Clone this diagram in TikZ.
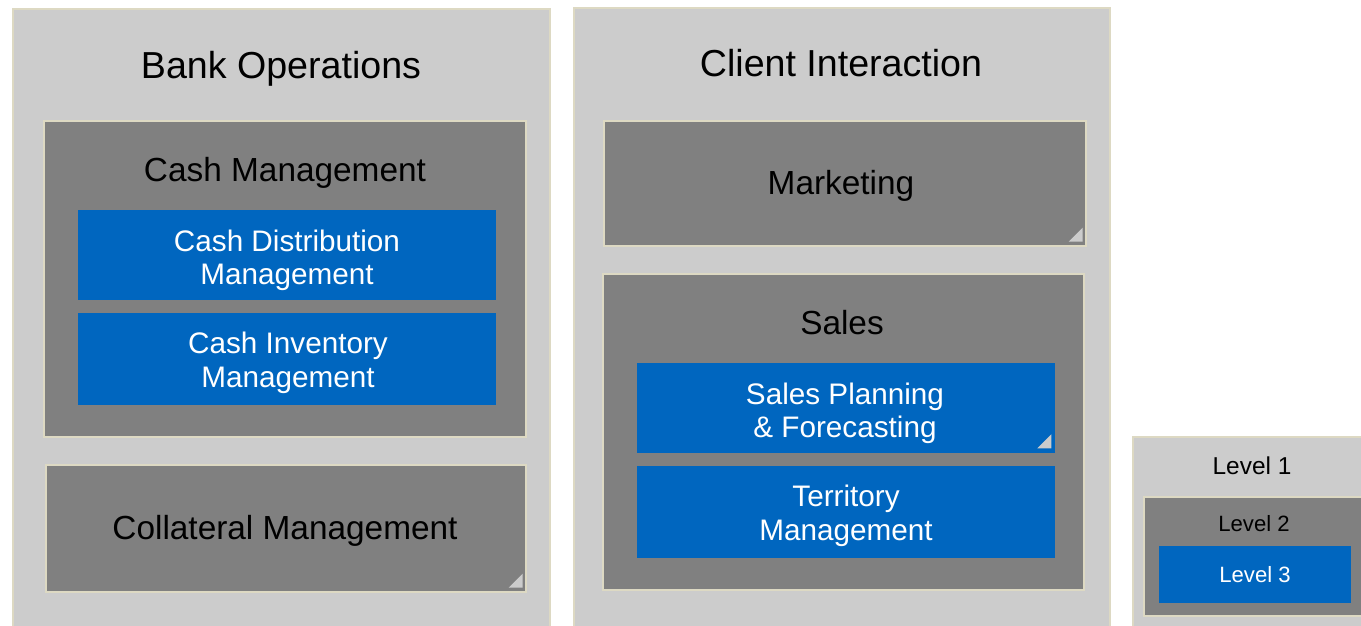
\documentclass[tikz,border=0pt]{standalone}
\usepackage{fontspec}
\setmainfont{Liberation Sans}
\usetikzlibrary{fit,calc}

\definecolor{lvonegray}{HTML}{CCCCCC}
\definecolor{lvtwogray}{HTML}{808080}
\definecolor{lvthreeblue}{HTML}{0066BF}
\definecolor{edgebeige}{HTML}{DDD9C3}

\tikzset{
  lvone/.style={fill=lvonegray, draw=edgebeige, line width=0.8pt, inner sep=0pt},
  lvtwo/.style={fill=lvtwogray, draw=edgebeige, line width=0.8pt, inner sep=0pt},
  lvthree/.style={fill=lvthreeblue, inner sep=0pt},
  onetext/.style={anchor=base, font=\fontsize{21.4}{25}\selectfont},
  twotext/.style={anchor=base, font=\fontsize{19}{22}\selectfont},
  threetext/.style={align=center, text=white, font=\fontsize{16.9}{19.2}\selectfont},
  cornertri/.style={fill=lvonegray},
}

% small grey corner triangle at the lower right of a box
\newcommand{\cornermark}[1]{%
  \fill[cornertri] ($(#1.south east)+(-4,-5)$) -- ++(0,-14) -- ++(-14,14) -- cycle;}

\begin{document}
\begin{tikzpicture}[x=0.02cm, y=-0.02cm]
  \useasboundingbox (0,0) rectangle (1361,625);

  % bank operations column
  \node[lvone, fit={(13,9) (550,640)}] (bank) {};
  \node[onetext] (banktxt) at (281,78.5) {Bank Operations};
  \node[lvtwo, fit={(44,121) (526,437)}] (cash) {};
  \node[twotext] (cashtxt) at (285,181) {Cash Management};
  \node[lvthree, fit={(78,210) (496,300)}] (cashdist) {};
  \node[threetext] (cashdisttxt) at (287,260.3) {Cash Distribution\\Management};
  \node[lvthree, fit={(78,313) (496,405)}] (cashinv) {};
  \node[threetext] (cashinvtxt) at (288,362.8) {Cash Inventory\\Management};
  \node[lvtwo, fit={(46,465) (526,592)}] (coll) {};
  \node[twotext] (colltxt) at (285,539) {Collateral Management};
  \cornermark{coll}

  % client interaction column
  \node[lvone, fit={(574,8) (1110,640)}] (client) {};
  \node[onetext] (clienttxt) at (841,76) {Client Interaction};
  \node[lvtwo, fit={(604,121) (1086,246)}] (mkt) {};
  \node[twotext] (mkttxt) at (841,194) {Marketing};
  \cornermark{mkt}
  \node[lvtwo, fit={(603,274) (1084,590)}] (sales) {};
  \node[twotext] (salestxt) at (842,334) {Sales};
  \node[lvthree, fit={(637,363) (1055,453)}] (plan) {};
  \node[threetext] (plantxt) at (845,413.3) {Sales Planning\\\& Forecasting};
  \cornermark{plan}
  \node[lvthree, fit={(637,466) (1055,558)}] (terr) {};
  \node[threetext] (terrtxt) at (846,515.8) {Territory\\Management};

  % legend
  \node[lvone, fit={(1133,437) (1375,640)}] (lvl1) {};
  \node[anchor=base, font=\fontsize{13.9}{16}\selectfont] (lvl1txt) at (1252,474.5) {Level 1};
  \node[lvtwo, fit={(1144,497) (1375,616)}] (lvl2) {};
  \node[anchor=base, font=\fontsize{12.6}{15}\selectfont] (lvl2txt) at (1254,531.5) {Level 2};
  \node[lvthree, fit={(1159,546) (1351,603)}] (lvl3) {};
  \node[anchor=base, text=white, font=\fontsize{12.6}{15}\selectfont] (lvl3txt) at (1255,582.5) {Level 3};
\end{tikzpicture}
\end{document}
